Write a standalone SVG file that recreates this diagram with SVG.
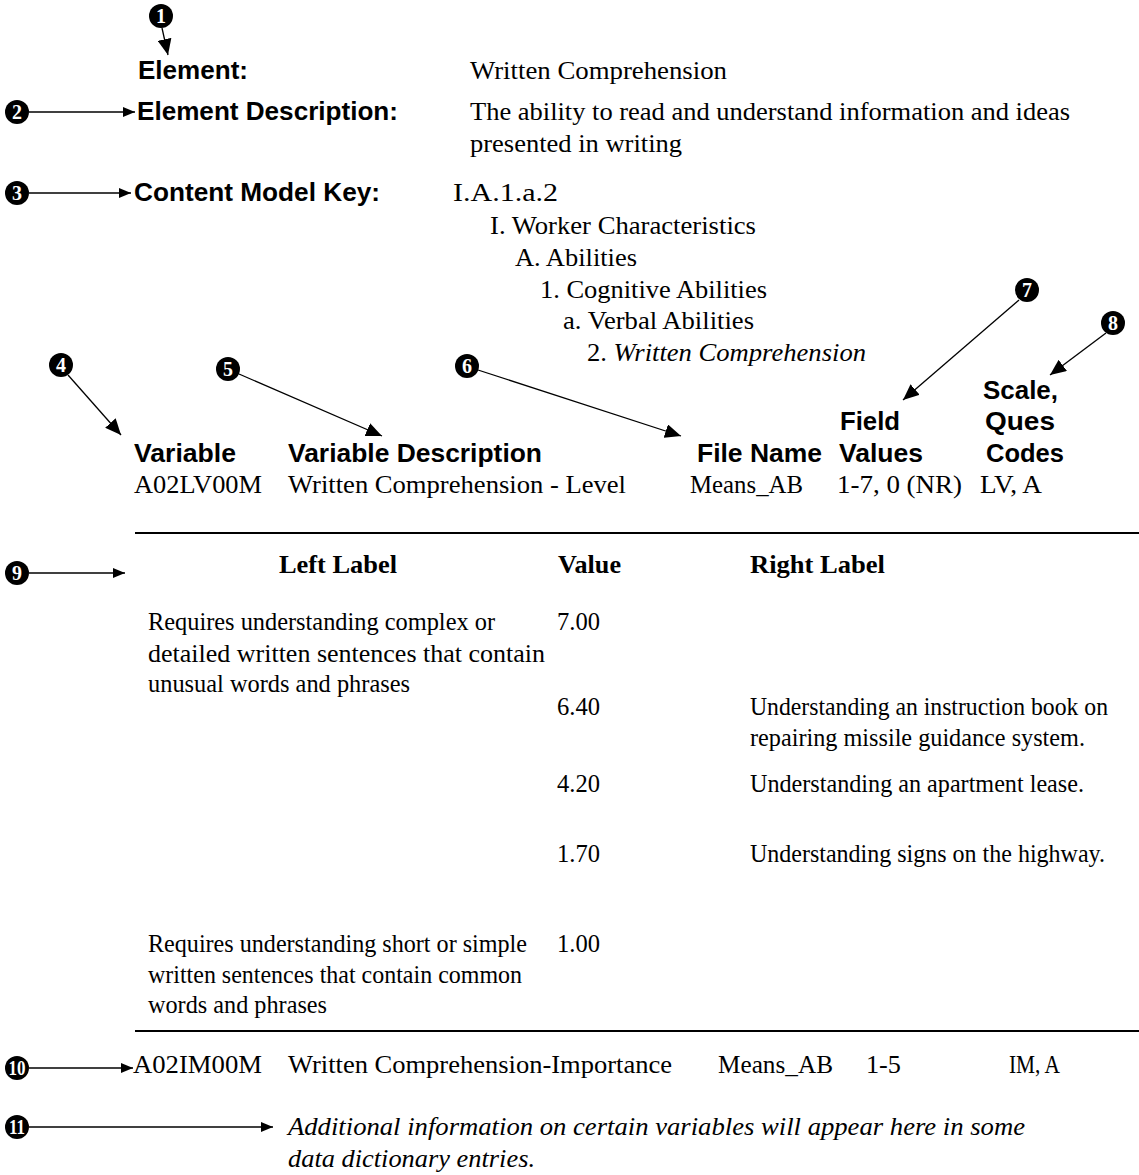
<svg xmlns="http://www.w3.org/2000/svg" width="1139" height="1175" viewBox="0 0 1139 1175">
  <style>
    .hb { font-family: "Liberation Sans", Arial, sans-serif; font-weight: bold; font-size: 26px; fill: #000; }
    .tx { font-family: "Liberation Serif", "Times New Roman", serif; font-size: 26px; fill: #000; }
    .tc { font-family: "Liberation Serif", "Times New Roman", serif; font-size: 25px; fill: #000; }
    .it { font-family: "Liberation Serif", "Times New Roman", serif; font-style: italic; font-size: 26px; fill: #000; }
    .th { font-family: "Liberation Serif", "Times New Roman", serif; font-weight: bold; font-size: 26px; fill: #000; }
    .num circle { fill: #000; }
    .num text { font-family: "Liberation Serif", "Times New Roman", serif; font-weight: bold; font-size: 20px; fill: #fff; text-anchor: middle; }
    .conn line { stroke: #000; stroke-width: 1.3; fill: none; }
    .rule { stroke: #000; stroke-width: 2.2; }
  </style>
  <defs>
    <marker id="head" viewBox="0 0 12 10" refX="12" refY="5" markerWidth="12" markerHeight="10" markerUnits="userSpaceOnUse" orient="auto">
      <path d="M0,0 L12,5 L0,10 Z" fill="#000"/>
    </marker>
    <marker id="headL" viewBox="0 0 16 14" refX="16" refY="7" markerWidth="16" markerHeight="14" markerUnits="userSpaceOnUse" orient="auto">
      <path d="M0,0 L16,7 L0,14 Z" fill="#000"/>
    </marker>
  </defs>
  <rect width="1139" height="1175" fill="#fff"/>

  <!-- numbered callouts -->
  <g id="n1" class="num"><circle cx="161" cy="16" r="12"/><text x="161" y="23">1</text></g>
  <g id="n2" class="num"><circle cx="17" cy="112" r="12"/><text x="17" y="119">2</text></g>
  <g id="n3" class="num"><circle cx="17" cy="193" r="12"/><text x="17" y="200">3</text></g>
  <g id="n4" class="num"><circle cx="61" cy="365" r="12"/><text x="61" y="372">4</text></g>
  <g id="n5" class="num"><circle cx="228" cy="369" r="12"/><text x="228" y="376">5</text></g>
  <g id="n6" class="num"><circle cx="467" cy="366" r="12"/><text x="467" y="373">6</text></g>
  <g id="n7" class="num"><circle cx="1027" cy="290" r="12"/><text x="1027" y="297">7</text></g>
  <g id="n8" class="num"><circle cx="1113" cy="323" r="12"/><text x="1113" y="330">8</text></g>
  <g id="n9" class="num"><circle cx="17" cy="573" r="12"/><text x="17" y="580">9</text></g>
  <g id="n10" class="num"><circle cx="17" cy="1068" r="12"/><text x="17" y="1075" textLength="17" lengthAdjust="spacingAndGlyphs">10</text></g>
  <g id="n11" class="num"><circle cx="17" cy="1127" r="12"/><text x="17" y="1134" textLength="16" lengthAdjust="spacingAndGlyphs">11</text></g>

  <!-- connectors -->
  <g id="connectors" class="conn">
    <line x1="162" y1="28" x2="168" y2="55" marker-end="url(#headL)"/>
    <line x1="29" y1="112" x2="135" y2="112" marker-end="url(#head)"/>
    <line x1="29" y1="193" x2="131" y2="193" marker-end="url(#head)"/>
    <line x1="68" y1="375" x2="121" y2="435" marker-end="url(#headL)"/>
    <line x1="239" y1="374" x2="382" y2="436" marker-end="url(#headL)"/>
    <line x1="478" y1="370" x2="681" y2="436" marker-end="url(#headL)"/>
    <line x1="1019" y1="300" x2="903" y2="400" marker-end="url(#headL)"/>
    <line x1="1106" y1="333" x2="1050" y2="375" marker-end="url(#headL)"/>
    <line x1="29" y1="573" x2="125" y2="573" marker-end="url(#head)"/>
    <line x1="29" y1="1068" x2="133" y2="1068" marker-end="url(#head)"/>
    <line x1="29" y1="1127" x2="273" y2="1127" marker-end="url(#head)"/>
  </g>

  <!-- element header -->
  <g id="element">
    <text class="hb" x="138" y="79" textLength="110" lengthAdjust="spacingAndGlyphs">Element:</text>
    <text class="tx" x="470" y="79" textLength="257" lengthAdjust="spacingAndGlyphs">Written Comprehension</text>
  </g>
  <g id="element-description">
    <text class="hb" x="137" y="120" textLength="261" lengthAdjust="spacingAndGlyphs">Element Description:</text>
    <text class="tx" x="470" y="120" textLength="600" lengthAdjust="spacingAndGlyphs">The ability to read and understand information and ideas</text>
    <text class="tx" x="470" y="152" textLength="212" lengthAdjust="spacingAndGlyphs">presented in writing</text>
  </g>
  <g id="content-model-key">
    <text class="hb" x="134" y="201" textLength="246" lengthAdjust="spacingAndGlyphs">Content Model Key:</text>
    <text class="tx" x="453" y="201" textLength="105" lengthAdjust="spacingAndGlyphs">I.A.1.a.2</text>
    <text class="tx" x="490" y="234" textLength="266" lengthAdjust="spacingAndGlyphs">I. Worker Characteristics</text>
    <text class="tx" x="515" y="266" textLength="122" lengthAdjust="spacingAndGlyphs">A. Abilities</text>
    <text class="tx" x="540" y="298" textLength="227" lengthAdjust="spacingAndGlyphs">1. Cognitive Abilities</text>
    <text class="tx" x="563" y="329" textLength="191" lengthAdjust="spacingAndGlyphs">a. Verbal Abilities</text>
    <text class="tx" x="587" y="361" textLength="279" lengthAdjust="spacingAndGlyphs"><tspan>2. </tspan><tspan font-style="italic">Written Comprehension</tspan></text>
  </g>

  <!-- variable header and first variable row -->
  <g id="variable-header">
    <text class="hb" x="983" y="399" textLength="75" lengthAdjust="spacingAndGlyphs">Scale,</text>
    <text class="hb" x="840" y="430" textLength="60" lengthAdjust="spacingAndGlyphs">Field</text>
    <text class="hb" x="985" y="430" textLength="70" lengthAdjust="spacingAndGlyphs">Ques</text>
    <text class="hb" x="134" y="462" textLength="102" lengthAdjust="spacingAndGlyphs">Variable</text>
    <text class="hb" x="288" y="462" textLength="254" lengthAdjust="spacingAndGlyphs">Variable Description</text>
    <text class="hb" x="697" y="462" textLength="125" lengthAdjust="spacingAndGlyphs">File Name</text>
    <text class="hb" x="839" y="462" textLength="84" lengthAdjust="spacingAndGlyphs">Values</text>
    <text class="hb" x="986" y="462" textLength="78" lengthAdjust="spacingAndGlyphs">Codes</text>
  </g>
  <g id="variable-level">
    <text class="tx" x="134" y="493" textLength="128" lengthAdjust="spacingAndGlyphs">A02LV00M</text>
    <text class="tx" x="288" y="493" textLength="338" lengthAdjust="spacingAndGlyphs">Written Comprehension - Level</text>
    <text class="tx" x="690" y="493" textLength="113" lengthAdjust="spacingAndGlyphs">Means_AB</text>
    <text class="tx" x="837" y="493" textLength="125" lengthAdjust="spacingAndGlyphs">1-7, 0 (NR)</text>
    <text class="tx" x="980" y="493" textLength="62" lengthAdjust="spacingAndGlyphs">LV, A</text>
  </g>

  <!-- anchor table -->
  <line class="rule" x1="135" y1="533" x2="1139" y2="533"/>
  <g id="anchor-table">
    <text class="th" x="279" y="573" textLength="118" lengthAdjust="spacingAndGlyphs">Left Label</text>
    <text class="th" x="558" y="573" textLength="63" lengthAdjust="spacingAndGlyphs">Value</text>
    <text class="th" x="750" y="573" textLength="135" lengthAdjust="spacingAndGlyphs">Right Label</text>

    <text class="tc" x="148" y="630" textLength="347" lengthAdjust="spacingAndGlyphs">Requires understanding complex or</text>
    <text class="tc" x="148" y="662" textLength="397" lengthAdjust="spacingAndGlyphs">detailed written sentences that contain</text>
    <text class="tc" x="148" y="692" textLength="262" lengthAdjust="spacingAndGlyphs">unusual words and phrases</text>
    <text class="tc" x="557" y="630" textLength="43" lengthAdjust="spacingAndGlyphs">7.00</text>

    <text class="tc" x="557" y="715" textLength="43" lengthAdjust="spacingAndGlyphs">6.40</text>
    <text class="tc" x="750" y="715" textLength="358" lengthAdjust="spacingAndGlyphs">Understanding an instruction book on</text>
    <text class="tc" x="750" y="746" textLength="335" lengthAdjust="spacingAndGlyphs">repairing missile guidance system.</text>

    <text class="tc" x="557" y="792" textLength="43" lengthAdjust="spacingAndGlyphs">4.20</text>
    <text class="tc" x="750" y="792" textLength="334" lengthAdjust="spacingAndGlyphs">Understanding an apartment lease.</text>

    <text class="tc" x="557" y="862" textLength="43" lengthAdjust="spacingAndGlyphs">1.70</text>
    <text class="tc" x="750" y="862" textLength="355" lengthAdjust="spacingAndGlyphs">Understanding signs on the highway.</text>

    <text class="tc" x="148" y="952" textLength="379" lengthAdjust="spacingAndGlyphs">Requires understanding short or simple</text>
    <text class="tc" x="148" y="983" textLength="374" lengthAdjust="spacingAndGlyphs">written sentences that contain common</text>
    <text class="tc" x="148" y="1013" textLength="179" lengthAdjust="spacingAndGlyphs">words and phrases</text>
    <text class="tc" x="557" y="952" textLength="43" lengthAdjust="spacingAndGlyphs">1.00</text>
  </g>
  <line class="rule" x1="135" y1="1031" x2="1139" y2="1031"/>

  <!-- importance variable row -->
  <g id="variable-importance">
    <text class="tx" x="133" y="1073" textLength="129" lengthAdjust="spacingAndGlyphs">A02IM00M</text>
    <text class="tx" x="288" y="1073" textLength="384" lengthAdjust="spacingAndGlyphs">Written Comprehension-Importance</text>
    <text class="tx" x="718" y="1073" textLength="115" lengthAdjust="spacingAndGlyphs">Means_AB</text>
    <text class="tx" x="866" y="1073" textLength="35" lengthAdjust="spacingAndGlyphs">1-5</text>
    <text class="tx" x="1009" y="1073" textLength="51" lengthAdjust="spacingAndGlyphs">IM, A</text>
  </g>

  <!-- note -->
  <g id="note">
    <text class="it" x="288" y="1135" textLength="737" lengthAdjust="spacingAndGlyphs">Additional information on certain variables will appear here in some</text>
    <text class="it" x="288" y="1167" textLength="247" lengthAdjust="spacingAndGlyphs">data dictionary entries.</text>
  </g>
</svg>
